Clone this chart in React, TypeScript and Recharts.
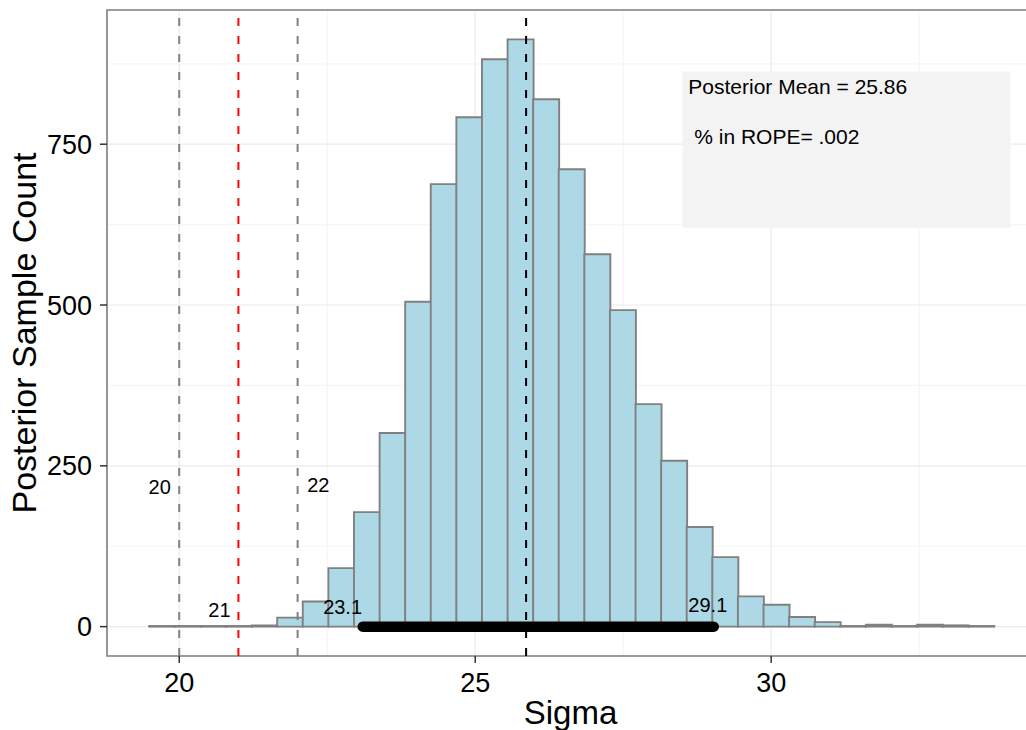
import React from 'react';
import {
  ComposedChart,
  Bar,
  XAxis,
  YAxis,
  CartesianGrid,
  ReferenceLine,
  ReferenceArea,
  ReferenceDot,
  Label,
} from 'recharts';

const FONT = '"Liberation Sans", Arial, Helvetica, sans-serif';

// Histogram bin centres (Sigma) and posterior sample counts
const binCenters = [
  19.709, 20.141, 20.574, 21.006, 21.439, 21.871, 22.303, 22.736, 23.168, 23.601,
  24.033, 24.465, 24.898, 25.33, 25.763, 26.195, 26.627, 27.06, 27.492, 27.925,
  28.357, 28.789, 29.222, 29.654, 30.087, 30.519, 30.951, 31.384, 31.816, 32.249,
  32.681, 33.113, 33.546,
];
const counts = [
  1, 1, 1, 1, 2, 14, 39, 91, 178, 301,
  505, 688, 792, 882, 913, 820, 711, 579, 492, 346,
  258, 155, 108, 47, 34, 15, 7, 1, 3, 1,
  3, 2, 1,
];

const xTicks = [20, 25, 30];
const yTicks = [0, 250, 500, 750];
const xMinor = [22.5, 27.5, 32.5];
const yMinor = [125, 375, 625, 875];
const xDomain = [18.78, 34.44];
const yDomain = [-45.65, 958.65];

const ropeLow = 20;
const ropeHigh = 22;
const compVal = 21;
const postMean = 25.86;
const hdiLow = 23.1;
const hdiHigh = 29.03;

// text annotations: [label, x, y]
const valueLabels: [string, number, number][] = [
  ['20', 19.67, 217],
  ['22', 22.35, 220],
  ['21', 20.68, 26],
  ['23.1', 22.76, 30],
  ['29.1', 28.93, 34],
];
const boxX = [28.5, 34.04];
const boxY = [620, 863];
const boxLines: [string, number, number][] = [
  ['Posterior Mean = 25.86', 28.6, 840],
  ['% in ROPE= .002', 28.7, 762],
];

const data = binCenters.map((x, i) => ({ x, count: counts[i] }));

const YTitle = (props: any) => {
  const vb = props.viewBox || { x: 0, y: 10, width: 107, height: 646 };
  const cy = vb.y + vb.height / 2;
  const x = vb.x + 36;
  return (
    <text
      x={x}
      y={cy}
      transform={`rotate(-90, ${x}, ${cy})`}
      textAnchor="middle"
      fontSize={34}
      fontFamily={FONT}
      fill="#000"
    >
      Posterior Sample Count
    </text>
  );
};

export default function App() {
  return (
    <div
      style={{
        position: 'fixed',
        left: 0,
        top: 0,
        width: 1026,
        height: 730,
        overflow: 'hidden',
        background: '#fff',
      }}
    >
      <ComposedChart
        width={1040}
        height={730}
        data={data}
        margin={{ top: 10, right: 6, bottom: 0, left: 0 }}
        barCategoryGap={0}
        barGap={0}
      >
        <CartesianGrid
          stroke="#F6F6F6"
          strokeWidth={1.2}
          horizontalValues={yMinor}
          verticalValues={xMinor}
        />
        <CartesianGrid stroke="#EBEBEB" strokeWidth={1.2} />
        <XAxis
          dataKey="x"
          type="number"
          domain={xDomain}
          allowDataOverflow
          ticks={xTicks}
          interval={0}
          height={74}
          tickSize={7}
          tickMargin={10}
          axisLine={false}
          tickLine={{ stroke: '#333', strokeWidth: 1.5 }}
          tick={{ fill: '#000', fontSize: 27, fontFamily: FONT }}
        >
          <Label
            value="Sigma"
            position="insideBottom"
            offset={6}
            fontSize={33}
            fill="#000"
            fontFamily={FONT}
          />
        </XAxis>
        <YAxis
          type="number"
          domain={yDomain}
          allowDataOverflow
          ticks={yTicks}
          interval={0}
          width={107}
          tickSize={7}
          tickMargin={8}
          axisLine={false}
          tickLine={{ stroke: '#333', strokeWidth: 1.5 }}
          tick={{ fill: '#000', fontSize: 27, fontFamily: FONT }}
        >
          <Label content={YTitle} />
        </YAxis>
        <ReferenceArea
          x1={boxX[0]}
          x2={boxX[1]}
          y1={boxY[0]}
          y2={boxY[1]}
          fill="#F3F3F3"
          fillOpacity={1}
          stroke="none"
          ifOverflow="visible"
        />
        <Bar
          dataKey="count"
          fill="#ADD8E6"
          stroke="#808080"
          strokeWidth={1.9}
          isAnimationActive={false}
        />
        <ReferenceLine x={ropeLow} stroke="#808080" strokeWidth={2} strokeDasharray="8 10" />
        <ReferenceLine x={ropeHigh} stroke="#808080" strokeWidth={2} strokeDasharray="8 10" />
        <ReferenceLine x={compVal} stroke="#FF0000" strokeWidth={2} strokeDasharray="8 10" />
        <ReferenceLine
          segment={[
            { x: hdiLow, y: 0 },
            { x: hdiHigh, y: 0 },
          ]}
          stroke="#000"
          strokeWidth={10.5}
          strokeLinecap="round"
        />
        <ReferenceLine x={postMean} stroke="#000" strokeWidth={2} strokeDasharray="8 10" />
        {valueLabels.map(([t, x, y]) => (
          <ReferenceDot
            key={t}
            x={x}
            y={y}
            r={0}
            fill="none"
            stroke="none"
            label={{ value: t, position: 'center', fontSize: 20, fill: '#000', fontFamily: FONT }}
          />
        ))}
        {boxLines.map(([t, x, y]) => (
          <ReferenceDot
            key={t}
            x={x}
            y={y}
            r={0}
            fill="none"
            stroke="none"
            label={{ value: t, position: 'right', offset: 0, fontSize: 21, fill: '#000', fontFamily: FONT }}
          />
        ))}
        <ReferenceArea
          x1={xDomain[0]}
          x2={xDomain[1]}
          y1={yDomain[0]}
          y2={yDomain[1]}
          fill="none"
          stroke="#7F7F7F"
          strokeWidth={1.6}
          ifOverflow="visible"
        />
      </ComposedChart>
    </div>
  );
}
